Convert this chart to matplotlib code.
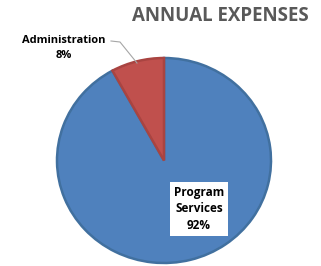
import matplotlib
matplotlib.use("Agg")
import matplotlib.pyplot as plt

categories = ["Program\nServices", "Administration"]
values = [92, 8]
colors = ["#4F81BD", "#C0504D"]
edge_colors = ["#41709F", "#A94441"]
title = "ANNUAL EXPENSES"

W, H = 321, 266
fig = plt.figure(figsize=(W / 100, H / 100), dpi=100)

# pie axes: bounding box of pie in pixels (left 57, right 271, top 58, bottom 263)
L, R, T, B = 57, 271, 58, 263
ax = fig.add_axes([L / W, (H - B) / H, (R - L) / W, (B - T) / H])
wedges, _ = ax.pie(values, colors=colors, startangle=90, counterclock=False,
                   radius=1, frame=True, wedgeprops=dict(linewidth=1.8))
for w, ec in zip(wedges, edge_colors):
    w.set_edgecolor(ec)
ax.set_aspect("auto")
ax.set_xlim(-1.0, 1.0)
ax.set_ylim(-1.0, 1.0)
ax.axis("off")

fam = ["Open Sans", "DejaVu Sans"]

def fx(px):
    return px / W

def fy(py):
    return 1 - py / H

fig.text(fx(220), fy(16), title, ha="center", va="center", fontsize=13.5,
         fontweight="bold", color="#595959", family=fam)

fig.text(fx(64), fy(48), f"{categories[1]}\n{values[1]}%", ha="center", va="center",
         fontsize=8, fontweight="bold", color="black", family=fam, linespacing=1.55)
fig.add_artist(plt.Line2D([fx(111), fx(120), fx(137)], [fy(41), fy(42), fy(63)],
                          color="#A6A6A6", lw=0.8, transform=fig.transFigure))

fig.text(fx(199), fy(209), f"{categories[0]}\n{values[0]}%", ha="center", va="center",
         fontsize=8.5, fontweight="bold", color="black", family=fam, linespacing=1.35,
         bbox=dict(boxstyle="square,pad=0.3", fc="white", ec="none"))

fig.savefig("out.png", dpi=100)
